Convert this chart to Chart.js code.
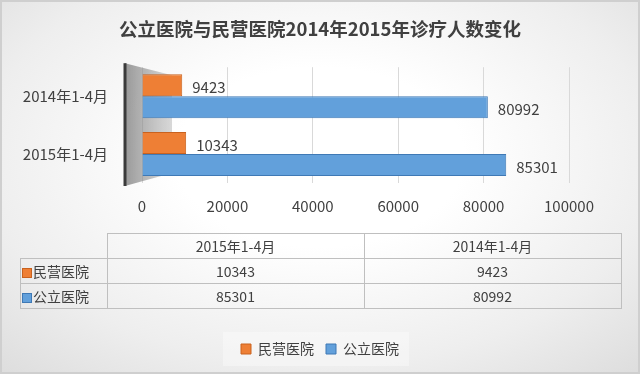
<!DOCTYPE html>
<html>
<head>
<meta charset="utf-8">
<script src="https://cdn.jsdelivr.net/npm/chart.js@4.4.1/dist/chart.umd.min.js"></script>
<style>
  html, body { margin: 0; padding: 0; background: #fff; }
  #wrap {
    position: relative; width: 640px; height: 374px; overflow: hidden;
    background: radial-gradient(ellipse 75% 80% at 50% 42%, #ffffff 30%, #eeeeee 70%, #dcdcdc 100%);
  }
  #frame { position: absolute; left: 0; top: 0; width: 640px; height: 374px; box-sizing: border-box;
    border: 2px solid #cfcfcf; pointer-events: none; }
  #chart { position: absolute; left: 0; top: 0; }
  table.dt { position: absolute; left: 20px; top: 233px; border-collapse: collapse;
    font-family: "Noto Sans CJK SC", sans-serif; font-size: 14px; color: #404040; }
  table.dt td { border: 1px solid #bfbfbf; height: 24px; padding: 0; text-align: center; line-height: 24px; }
  table.dt td.blank { border-top: none; border-left: none; }
  table.dt td.name { text-align: left; padding-left: 2px; }
  .key { display: inline-block; width: 8px; height: 8px; margin-right: 2px; vertical-align: 0px; }
</style>
</head>
<body>
<div id="wrap">
  <canvas id="chart" width="640" height="374"></canvas>
  <table class="dt" id="datatable"></table>
  <div id="frame"></div>
</div>
<script>
// chart data (Excel order: first category is drawn at the bottom)
const categories = ["2015年1-4月", "2014年1-4月"];
const seriesNames = ["民营医院", "公立医院"];
const privateVals = [10343, 9423];
const publicVals = [85301, 80992];
const xTicks = [0, 20000, 40000, 60000, 80000, 100000];
const chartTitle = "公立医院与民营医院2014年2015年诊疗人数变化";

const fillColors = ["#ee7f35", "#62a0db"];
const edgeColors = ["#c9621f", "#3f79b5"];
const textColor = "#404040";
const fontFamily = "'Noto Sans CJK SC', 'Noto Sans', sans-serif";

// data table under the chart
var table = document.getElementById("datatable");
var html = "<tr><td class='blank' style='width:86px'></td>";
for (let i = 0; i < categories.length; i++) {
  html += "<td style='width:256px'>" + categories[i] + "</td>";
}
html += "</tr>";
var allVals = [privateVals, publicVals];
for (let s = 0; s < seriesNames.length; s++) {
  html += "<tr><td class='name'><span class='key' style='background:" + fillColors[s] +
    ";outline:1px solid " + edgeColors[s] + "'></span>" + seriesNames[s] + "</td>";
  for (let i = 0; i < categories.length; i++) {
    html += "<td>" + allVals[s][i] + "</td>";
  }
  html += "</tr>";
}
table.innerHTML = html;

// grey side wall + dark axis line of the 3d look
var wallPlugin = {
  id: "wall",
  beforeDatasetsDraw(chart) {
    var a = chart.chartArea;
    var c = chart.ctx;
    var x0 = a.left - 17;
    c.save();
    var g = c.createLinearGradient(x0, 0, a.left + 30, 0);
    g.addColorStop(0, "rgba(120,120,120,0.75)");
    g.addColorStop(1, "rgba(170,170,170,0.45)");
    c.fillStyle = g;
    c.beginPath();
    c.moveTo(x0, a.top - 4);
    c.lineTo(a.left + 30, a.top + 8);
    c.lineTo(a.left + 30, a.bottom - 10);
    c.lineTo(x0, a.bottom + 3);
    c.closePath();
    c.fill();
    c.strokeStyle = "#3a3a3a";
    c.lineWidth = 3;
    c.beginPath();
    c.moveTo(x0, a.top - 4);
    c.lineTo(x0, a.bottom + 3);
    c.stroke();
    c.restore();
  }
};

// value labels at the bar ends
var valuePlugin = {
  id: "values",
  afterDatasetsDraw(chart) {
    var c = chart.ctx;
    c.save();
    c.font = "15px " + fontFamily;
    c.fillStyle = textColor;
    c.textAlign = "left";
    c.textBaseline = "middle";
    chart.data.datasets.forEach(function (ds, di) {
      chart.getDatasetMeta(di).data.forEach(function (bar, i) {
        c.fillText(ds.data[i], bar.x + 10, bar.y + 2);
      });
    });
    c.restore();
  }
};

// legend background box
var legendBoxPlugin = {
  id: "legendBox",
  beforeDraw(chart) {
    var lg = chart.legend;
    if (!lg || !lg.legendHitBoxes.length) return;
    var first = lg.legendHitBoxes[0];
    var last = lg.legendHitBoxes[lg.legendHitBoxes.length - 1];
    var c = chart.ctx;
    c.save();
    c.fillStyle = "rgba(255,255,255,0.35)";
    c.fillRect(first.left - 18, first.top - 10, last.left + last.width - first.left + 28, first.height + 20);
    c.restore();
  }
};

var ctx = document.getElementById("chart");
new Chart(ctx, {
  type: "bar",
  data: {
    labels: categories.slice().reverse(),
    datasets: [
      {
        label: seriesNames[0],
        data: privateVals.slice().reverse(),
        backgroundColor: fillColors[0],
        borderColor: edgeColors[0],
        borderWidth: 1,
        categoryPercentage: 0.76,
        barPercentage: 1
      },
      {
        label: seriesNames[1],
        data: publicVals.slice().reverse(),
        backgroundColor: fillColors[1],
        borderColor: edgeColors[1],
        borderWidth: 1,
        categoryPercentage: 0.76,
        barPercentage: 1
      }
    ]
  },
  options: {
    indexAxis: "y",
    responsive: false,
    animation: false,
    layout: { padding: { top: 10, left: 20, right: 20, bottom: 8 } },
    plugins: {
      title: {
        display: true,
        text: chartTitle,
        color: textColor,
        font: { size: 18.5, weight: "bold", family: fontFamily },
        padding: { top: 8, bottom: 27 }
      },
      legend: {
        position: "bottom",
        labels: {
          color: textColor,
          boxWidth: 10,
          boxHeight: 10,
          padding: 12,
          font: { size: 14, family: fontFamily }
        }
      },
      tooltip: { enabled: false }
    },
    scales: {
      x: {
        min: 0,
        max: 100000,
        afterBuildTicks: function (axis) {
          axis.ticks = xTicks.map(function (v) { return { value: v }; });
        },
        afterFit: function (axis) { axis.height = 147; },
        grid: { color: "#d9d9d9", drawTicks: false },
        border: { display: false },
        ticks: {
          padding: 14,
          color: textColor,
          font: { size: 15, family: fontFamily },
          callback: function (v) { return String(v); }
        }
      },
      y: {
        afterFit: function (axis) { axis.width = 122; },
        grid: { display: false, drawTicks: false },
        border: { display: false },
        ticks: { padding: 34, color: textColor, font: { size: 15, family: fontFamily } }
      },
      yRight: {
        type: "linear",
        position: "right",
        min: 0,
        max: 1,
        afterFit: function (axis) { axis.width = 51; },
        grid: { display: false, drawTicks: false },
        border: { display: false },
        ticks: { display: false }
      }
    }
  },
  plugins: [wallPlugin, valuePlugin, legendBoxPlugin]
});
</script>
</body>
</html>
